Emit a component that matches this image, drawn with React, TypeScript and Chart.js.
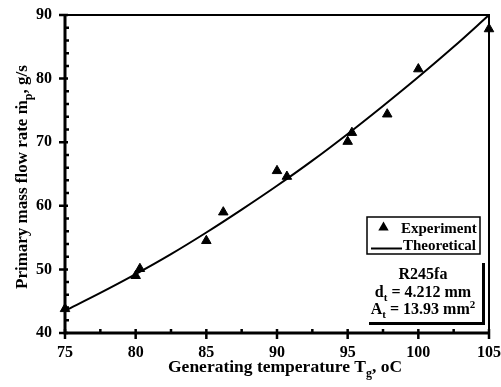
import React, { useEffect, useRef } from "react";
import { Chart, registerables } from "chart.js";

Chart.register(...registerables);

const expTemperature = [75, 80, 80.3, 85, 86.2, 90, 90.7, 95, 95.3, 97.8, 100, 105];
const expFlow = [43.8, 49.0, 50.1, 54.5, 59.0, 65.5, 64.6, 70.1, 71.5, 74.4, 81.5, 87.8];

// Theoretical curve
const theoTemperature = [75, 77.5, 80, 82.5, 85, 87.5, 90, 92.5, 95, 97.5, 100, 102.5, 105];
const theoFlow = [43.5, 46.3, 49.25, 52.4, 55.8, 59.4, 63.15, 67.1, 71.3, 75.7, 80.25, 85.0, 90.0];

// Axis ticks
const xMajorTicks = [75, 80, 85, 90, 95, 100, 105];
const xMinorTicks = [77.5, 82.5, 87.5, 92.5, 97.5, 102.5];
const yMajorTicks = [40, 50, 60, 70, 80, 90];
const yMinorTicks = [42, 44, 46, 48, 52, 54, 56, 58, 62, 64, 66, 68, 72, 74, 76, 78, 82, 84, 86, 88];

const legendLabels = ["Experiment", "Theoretical"];
const xTitleParts = [{ t: "Generating temperature T" }, { t: "g", sub: true }, { t: ", oC" }];
const yTitleParts = [{ t: "Primary mass flow rate \u1E41" }, { t: "p", sub: true }, { t: ", g/s" }];
const noteLines = [
  [{ t: "R245fa" }],
  [{ t: "d" }, { t: "t", sub: true }, { t: " = 4.212 mm" }],
  [{ t: "A" }, { t: "t", sub: true }, { t: " = 13.93 mm" }, { t: "2", sup: true }],
];

const FAMILY = '"Liberation Serif", "Times New Roman", serif';

type Part = { t: string; sub?: boolean; sup?: boolean };

function partFont(p: Part, size: number) {
  const s = p.sub || p.sup ? Math.round(size * 0.68) : size;
  return `bold ${s}px ${FAMILY}`;
}

function richWidth(ctx: CanvasRenderingContext2D, parts: Part[], size: number) {
  let w = 0;
  for (const p of parts) {
    ctx.font = partFont(p, size);
    w += ctx.measureText(p.t).width;
  }
  return w;
}

function drawRich(ctx: CanvasRenderingContext2D, parts: Part[], x: number, y: number, size: number) {
  ctx.textAlign = "left";
  ctx.textBaseline = "alphabetic";
  let cx = x;
  for (const p of parts) {
    ctx.font = partFont(p, size);
    let dy = 0;
    if (p.sub) dy = size * 0.28;
    if (p.sup) dy = -size * 0.38;
    ctx.fillText(p.t, cx, y + dy);
    cx += ctx.measureText(p.t).width;
  }
}

const decorPlugin = {
  id: "decor",
  beforeDatasetsDraw(chart: any) {
    const { ctx, chartArea, scales } = chart;
    const { left, right, top, bottom } = chartArea;
    const xs = scales.x;
    const ys = scales.y;
    ctx.save();
    ctx.strokeStyle = "#000";
    // frame
    ctx.lineWidth = 2;
    ctx.beginPath();
    ctx.moveTo(left, top);
    ctx.lineTo(right, top);
    ctx.lineTo(right, bottom);
    ctx.stroke();
    ctx.lineWidth = 3;
    ctx.beginPath();
    ctx.moveTo(left, top - 1);
    ctx.lineTo(left, bottom);
    ctx.lineTo(right + 1, bottom);
    ctx.stroke();
    // ticks
    ctx.lineWidth = 2.5;
    ctx.beginPath();
    for (const v of yMajorTicks) {
      const y = ys.getPixelForValue(v);
      ctx.moveTo(left - 6, y);
      ctx.lineTo(left + 3, y);
    }
    for (const v of yMinorTicks) {
      const y = ys.getPixelForValue(v);
      ctx.moveTo(left, y);
      ctx.lineTo(left + 4, y);
    }
    for (const v of xMajorTicks) {
      const x = xs.getPixelForValue(v);
      ctx.moveTo(x, bottom + 6);
      ctx.lineTo(x, bottom - 4);
    }
    for (const v of xMinorTicks) {
      const x = xs.getPixelForValue(v);
      ctx.moveTo(x, bottom);
      ctx.lineTo(x, bottom - 4);
    }
    ctx.stroke();
    ctx.restore();
  },
  afterDraw(chart: any) {
    const { ctx } = chart;
    ctx.save();
    ctx.fillStyle = "#000";
    ctx.strokeStyle = "#000";

    // x title
    drawRich(ctx, xTitleParts, 168, 372, 17.5);

    // y title (rotated)
    ctx.save();
    ctx.translate(27, 289);
    ctx.rotate(-Math.PI / 2);
    drawRich(ctx, yTitleParts, 0, 0, 17);
    ctx.restore();

    // legend box
    const lx = 367, ly = 217, lw = 113, lh = 37;
    ctx.fillStyle = "#fff";
    ctx.fillRect(lx, ly, lw, lh);
    ctx.lineWidth = 1.5;
    ctx.strokeRect(lx, ly, lw, lh);
    ctx.fillStyle = "#000";
    // triangle
    const tx = 383.5, ty = 227.5, r = 6;
    ctx.beginPath();
    ctx.moveTo(tx, ty - r);
    ctx.lineTo(tx + r * 0.866, ty + r * 0.5);
    ctx.lineTo(tx - r * 0.866, ty + r * 0.5);
    ctx.closePath();
    ctx.fill();
    drawRich(ctx, [{ t: legendLabels[0] }], 401, 232.5, 15);
    ctx.lineWidth = 2;
    ctx.beginPath();
    ctx.moveTo(371, 248.5);
    ctx.lineTo(402, 248.5);
    ctx.stroke();
    drawRich(ctx, [{ t: legendLabels[1] }], 403, 249.5, 15);

    // annotation
    const cx = 423;
    const baselines = [279, 296.5, 314];
    noteLines.forEach((parts, i) => {
      const w = richWidth(ctx, parts as Part[], 16);
      drawRich(ctx, parts as Part[], cx - w / 2, baselines[i], 16);
    });
    ctx.lineWidth = 3;
    ctx.beginPath();
    ctx.moveTo(483.5, 263);
    ctx.lineTo(483.5, 323.5);
    ctx.lineTo(369, 323.5);
    ctx.stroke();

    ctx.restore();
  },
};

export default function App() {
  const canvasRef = useRef<HTMLCanvasElement | null>(null);

  useEffect(() => {
    document.body.style.margin = "0";
    const canvas = canvasRef.current;
    if (!canvas) return;
    const tickFont = { family: FAMILY, size: 16, weight: "bold" as const };
    const chart = new Chart(canvas, {
      type: "scatter",
      data: {
        datasets: [
          {
            label: legendLabels[1],
            data: theoTemperature.map((x, i) => ({ x, y: theoFlow[i] })),
            showLine: true,
            borderColor: "#000",
            borderWidth: 2,
            pointRadius: 0,
            cubicInterpolationMode: "monotone",
            fill: false,
            clip: false as any,
          },
          {
            label: legendLabels[0],
            data: expTemperature.map((x, i) => ({ x, y: expFlow[i] })),
            pointStyle: "triangle",
            pointRadius: 5.5,
            borderWidth: 1,
            backgroundColor: "#000",
            borderColor: "#000",
            showLine: false,
            clip: false as any,
          },
        ],
      },
      options: {
        responsive: false,
        animation: false,
        devicePixelRatio: 1,
        layout: { padding: { top: 15, right: 12, left: 0, bottom: 0 } },
        plugins: { legend: { display: false }, tooltip: { enabled: false } },
        scales: {
          x: {
            type: "linear",
            min: 75,
            max: 105,
            afterFit: (s: any) => {
              s.height = 54;
              s.paddingLeft = 0;
              s.paddingRight = 0;
            },
            afterBuildTicks: (s: any) => {
              s.ticks = xMajorTicks.map((v) => ({ value: v }));
            },
            grid: { display: false, drawTicks: false },
            border: { display: false },
            ticks: { padding: 10, font: tickFont, color: "#000", maxRotation: 0, autoSkip: false },
          },
          y: {
            type: "linear",
            min: 40,
            max: 90,
            afterFit: (s: any) => {
              s.width = 65;
              s.paddingTop = 0;
              s.paddingBottom = 0;
            },
            afterBuildTicks: (s: any) => {
              s.ticks = yMajorTicks.map((v) => ({ value: v }));
            },
            grid: { display: false, drawTicks: false },
            border: { display: false },
            ticks: { padding: 13, font: tickFont, color: "#000", autoSkip: false },
          },
        },
      },
      plugins: [decorPlugin],
    });
    return () => chart.destroy();
  }, []);

  return (
    <div style={{ position: "absolute", left: 0, top: 0, width: 501, height: 387 }}>
      <canvas ref={canvasRef} width={501} height={387} />
    </div>
  );
}
